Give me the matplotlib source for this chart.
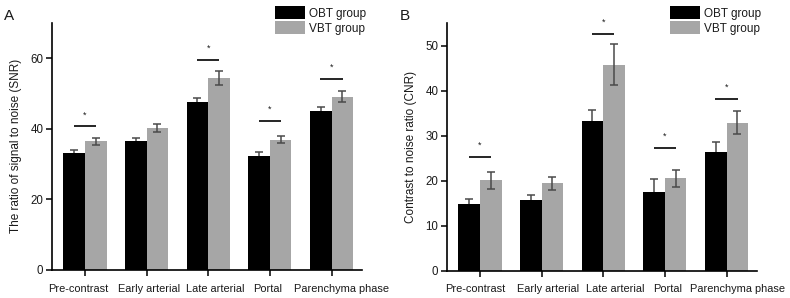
import matplotlib
matplotlib.use("Agg")
import matplotlib.pyplot as plt
import matplotlib.transforms as mtransforms
import numpy as np

plt.rcParams['font.family'] = ['Liberation Sans', 'DejaVu Sans']

categories = ["Pre-contrast", "Early arterial", "Late arterial", "Portal", "Parenchyma phase"]
groups = ["OBT group", "VBT group"]

# Panel A: SNR
snr_obt = [33.0, 36.6, 47.5, 32.4, 44.9]
snr_obt_err = [0.9, 0.9, 1.3, 0.9, 1.1]
snr_vbt = [36.4, 40.2, 54.3, 36.9, 49.1]
snr_vbt_err = [1.0, 1.2, 1.9, 1.0, 1.5]
snr_sig_idx = [0, 2, 3, 4]
snr_sig_y = [40.7, 59.5, 42.2, 54.1]

# Panel B: CNR
cnr_obt = [14.7, 15.75, 33.2, 17.5, 26.4]
cnr_obt_err = [1.3, 1.0, 2.4, 2.8, 2.15]
cnr_vbt = [20.1, 19.4, 45.8, 20.5, 32.9]
cnr_vbt_err = [1.9, 1.4, 4.6, 1.9, 2.5]
cnr_sig_idx = [0, 2, 3, 4]
cnr_sig_y = [25.3, 52.7, 27.3, 38.2]

W, H = 790, 298
fig = plt.figure(figsize=(W / 100, H / 100), dpi=100)

BLACK = "#000000"
GRAY = "#a6a6a6"
ERR = "#4a4a4a"
TXT = "#1a1a1a"
bw = 0.35


def panel(rect, obt, obt_err, vbt, vbt_err, sig_idx, sig_y, ylim, yticks, ylabel, letter, letter_x, leg_x,
          label_shift):
    ax = fig.add_axes(rect)
    x = np.arange(len(categories))
    ax.bar(x - bw / 2, obt, bw, color=BLACK, label=groups[0], zorder=2)
    ax.bar(x + bw / 2, vbt, bw, color=GRAY, label=groups[1], zorder=2)
    ax.errorbar(x - bw / 2, obt, yerr=obt_err, fmt='none', ecolor=ERR,
                elinewidth=1.1, capsize=2.6, capthick=1.1, zorder=1)
    ax.errorbar(x + bw / 2, vbt, yerr=vbt_err, fmt='none', ecolor=ERR,
                elinewidth=1.1, capsize=2.6, capthick=1.1, zorder=3)
    for i, yv in zip(sig_idx, sig_y):
        ax.plot([i - 0.18, i + 0.18], [yv, yv], color='black', lw=1.2, solid_capstyle='butt')
        ax.text(i, yv + ylim[1] * 0.028, "*", ha='center', va='bottom', fontsize=6.5, color=TXT)
    ax.set_xlim(-0.54, 4.49)
    ax.set_ylim(*ylim)
    ax.set_yticks(yticks)
    ax.set_xticks(x)
    ax.set_xticklabels([""] * len(categories))
    base = ax.get_xaxis_transform()
    for i, (cat, dx) in enumerate(zip(categories, label_shift)):
        tr = base + mtransforms.ScaledTranslation(dx / 100, -14 / 100, fig.dpi_scale_trans)
        ax.text(i, 0, cat, transform=tr, ha='center', va='top', fontsize=7.9, color=TXT, clip_on=False)
    ax.tick_params(axis='y', labelsize=8.3, length=4, width=1.1, pad=2, color='black', labelcolor=TXT)
    ax.tick_params(axis='x', length=4, width=1.1, pad=7, color='black')
    for s in ['top', 'right']:
        ax.spines[s].set_visible(False)
    for s in ['left', 'bottom']:
        ax.spines[s].set_linewidth(1.2)
    ax.set_ylabel(ylabel, fontsize=8.5, labelpad=6, color=TXT)
    fig.text(letter_x / W, 1 - 16 / H, letter, fontsize=11, ha='left', va='center', color=TXT)
    leg = ax.legend(loc='upper left', bbox_to_anchor=(leg_x / W, 1 - 6 / H),
                    bbox_transform=fig.transFigure, frameon=False, fontsize=8.5,
                    handlelength=2.55, handleheight=1.35, borderpad=0, labelspacing=0.12,
                    handletextpad=0.3, borderaxespad=0)
    for t in leg.get_texts():
        t.set_color(TXT)
    return ax


panel([51.7 / W, 1 - 270 / H, 310 / W, 247.3 / H], snr_obt, snr_obt_err, snr_vbt, snr_vbt_err,
      snr_sig_idx, snr_sig_y, (0, 70), [0, 20, 40, 60], "The ratio of signal to noise (SNR)", "A", 4, 275,
      [-7, 2, 7, -2, 10])
panel([446.7 / W, 1 - 270.5 / H, 310 / W, 247.2 / H], cnr_obt, cnr_obt_err, cnr_vbt, cnr_vbt_err,
      cnr_sig_idx, cnr_sig_y, (0, 55), [0, 10, 20, 30, 40, 50], "Contrast to noise ratio (CNR)", "B", 400, 670,
      [-5, 6, 12, 2.5, 11])

fig.savefig("out.png", dpi=100)
